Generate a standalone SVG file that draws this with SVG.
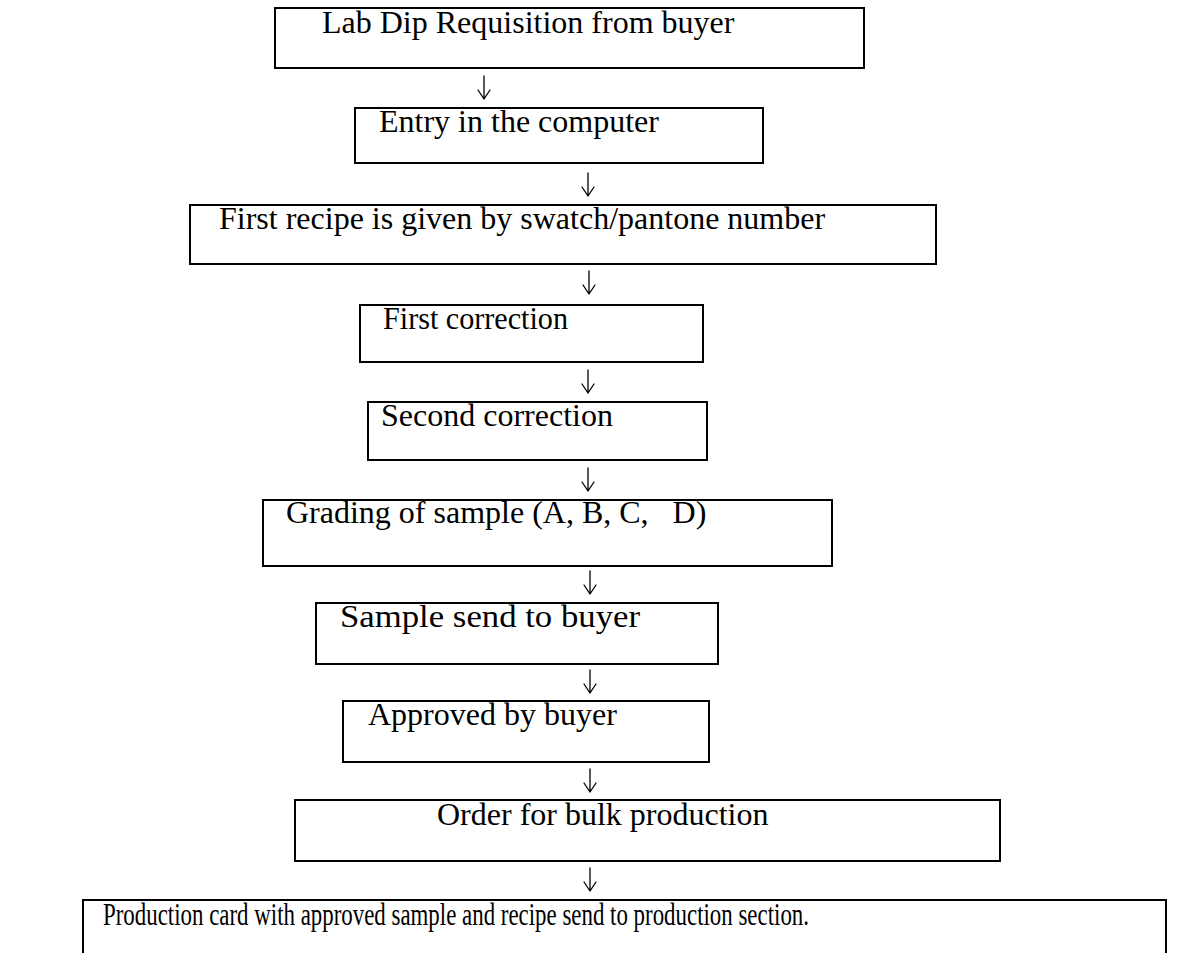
<svg xmlns="http://www.w3.org/2000/svg" width="1189" height="953" viewBox="0 0 1189 953">
  <style>
    .box { fill: #ffffff; stroke: #000000; stroke-width: 2; }
    .label { font-family: "Liberation Serif", "Times New Roman", serif; font-size: 32px; fill: #000000; }
    .arrow { fill: none; stroke: #000000; stroke-width: 1.3; stroke-linecap: round; stroke-linejoin: round; }
  </style>
  <defs>
    <!-- down arrow: stem plus open head, origin at the top of the stem -->
    <path id="down" class="arrow" d="M0,0 V23 M-6,14 L0,23 L6,14"/>
  </defs>
  <rect width="1189" height="953" fill="#ffffff"/>

  <g id="connectors">
    <use href="#down" x="484" y="76"/>
    <use href="#down" x="588" y="173"/>
    <use href="#down" x="589" y="271"/>
    <use href="#down" x="588" y="370"/>
    <use href="#down" x="588" y="468"/>
    <use href="#down" x="590" y="571"/>
    <use href="#down" x="590" y="670"/>
    <use href="#down" x="590" y="769"/>
    <use href="#down" x="590" y="868"/>
  </g>

  <g id="lab-dip-requisition">
    <rect class="box" x="275" y="8" width="589" height="60"/>
    <text class="label" x="322" y="33">Lab Dip Requisition from buyer</text>
  </g>
  <g id="computer-entry">
    <rect class="box" x="355" y="108" width="408" height="55"/>
    <text class="label" x="379" y="132">Entry in the computer</text>
  </g>
  <g id="first-recipe">
    <rect class="box" x="190" y="205" width="746" height="59"/>
    <text class="label" x="219" y="229">First recipe is given by swatch/pantone number</text>
  </g>
  <g id="first-correction">
    <rect class="box" x="360" y="305" width="343" height="57"/>
    <text class="label" x="383" y="329" textLength="185" lengthAdjust="spacingAndGlyphs">First correction</text>
  </g>
  <g id="second-correction">
    <rect class="box" x="368" y="402" width="339" height="58"/>
    <text class="label" x="381" y="426">Second correction</text>
  </g>
  <g id="grading">
    <rect class="box" x="263" y="500" width="569" height="66"/>
    <text class="label" x="286" y="523" xml:space="preserve">Grading of sample (A, B, C,   D)</text>
  </g>
  <g id="sample-to-buyer">
    <rect class="box" x="316" y="603" width="402" height="61"/>
    <text class="label" x="340" y="627" textLength="300" lengthAdjust="spacingAndGlyphs">Sample send to buyer</text>
  </g>
  <g id="approved">
    <rect class="box" x="343" y="701" width="366" height="61"/>
    <text class="label" x="368" y="725">Approved by buyer</text>
  </g>
  <g id="bulk-order">
    <rect class="box" x="295" y="800" width="705" height="61"/>
    <text class="label" x="437" y="825">Order for bulk production</text>
  </g>
  <g id="production-card">
    <path class="box" d="M83,953 V900 H1166 V953"/>
    <text class="label" x="103" y="925" textLength="706" lengthAdjust="spacingAndGlyphs">Production card with approved sample and recipe send to production section.</text>
  </g>
</svg>
